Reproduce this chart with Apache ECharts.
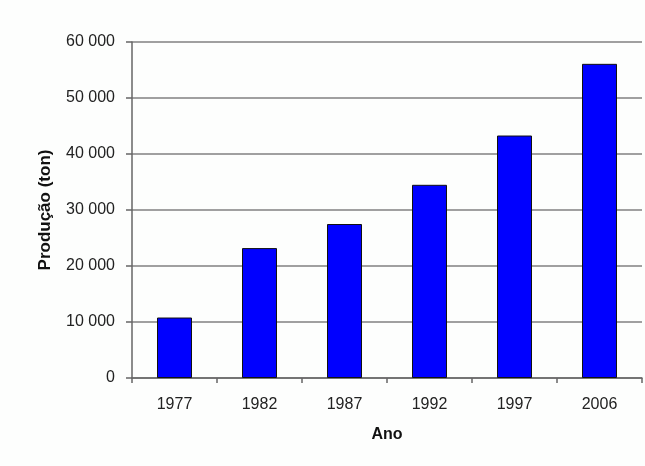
<!DOCTYPE html>
<html><head><meta charset="utf-8">
<script src="https://cdn.jsdelivr.net/npm/echarts@6/dist/echarts.min.js"></script>
<style>html,body{margin:0;padding:0;background:#fdfefd}#c{width:645px;height:466px}</style>
</head><body><div id="c"></div>
<script>
var categories = ['1977','1982','1987','1992','1997','2006'];
var production = [10800, 23200, 27500, 34500, 43300, 56100];
var yTicks = [0, 10000, 20000, 30000, 40000, 50000, 60000];

var chart = echarts.init(document.getElementById('c'));
chart.setOption({
  backgroundColor: '#fdfefd',
  animation: false,
  grid: {left: 132, right: 3, top: 42, bottom: 88},
  xAxis: {
    type: 'category', data: categories,
    name: 'Ano', nameLocation: 'middle', nameGap: 49,
    nameTextStyle: {fontFamily: 'Liberation Sans', fontWeight: 'bold', fontSize: 16, color: '#111'},
    axisLine: {lineStyle: {color: '#666', width: 1.5}},
    axisTick: {show: true, length: 5, lineStyle: {color: '#666', width: 1.5}},
    axisLabel: {fontFamily: 'Liberation Sans', fontSize: 16, color: '#222', margin: 19}
  },
  yAxis: {
    type: 'value', min: yTicks[0], max: yTicks[yTicks.length-1], interval: 10000,
    name: 'Produção (ton)', nameLocation: 'middle', nameGap: 78, nameRotate: 90,
    nameTextStyle: {fontFamily: 'Liberation Sans', fontWeight: 'bold', fontSize: 17, color: '#111'},
    axisLine: {show: true, lineStyle: {color: '#666', width: 1.5}},
    axisTick: {show: true, length: 6, lineStyle: {color: '#666', width: 1.5}},
    splitLine: {lineStyle: {color: '#808080', width: 1.5}},
    axisLabel: {fontFamily: 'Liberation Sans', fontSize: 16, color: '#222', margin: 17,
      formatter: function(v){ return String(v).replace(/\B(?=(\d{3})+(?!\d))/g, ' '); }}
  },
  series: [{
    type: 'bar', data: production, barWidth: 35,
    itemStyle: {color: '#0000ff', borderColor: '#111', borderWidth: 1}
  }]
});
</script></body></html>
